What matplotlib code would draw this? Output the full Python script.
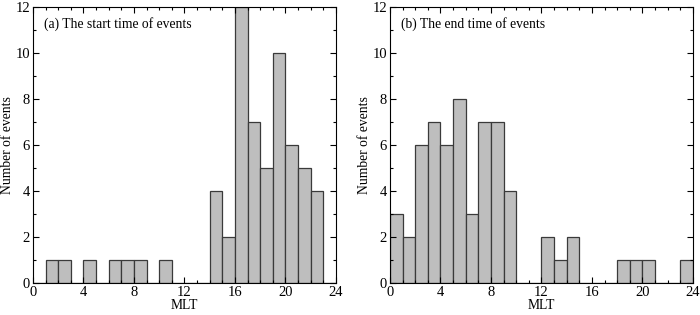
import matplotlib
matplotlib.use("Agg")
import matplotlib.pyplot as plt
from matplotlib.ticker import MultipleLocator

plt.rcParams['font.family'] = ['Liberation Serif', 'DejaVu Serif']

bin_starts = list(range(24))
counts_start = [0, 1, 1, 0, 1, 0, 1, 1, 1, 0, 1, 0, 0, 0, 4, 2, 12, 7, 5, 10, 6, 5, 4, 0]
counts_end = [3, 2, 6, 7, 6, 8, 3, 7, 7, 4, 0, 0, 2, 1, 2, 0, 0, 0, 1, 1, 1, 0, 0, 1]
titles = ["(a) The start time of events", "(b) The end time of events"]
xlabel = "MLT"
ylabel = "Number of events"

fig = plt.figure(figsize=(7, 3.15), dpi=100)
ax1 = fig.add_axes([0.047, 0.1016, 0.433, 0.876])
ax2 = fig.add_axes([0.557, 0.1016, 0.433, 0.876])

fs = 9.8
for ax, counts, title in [(ax1, counts_start, titles[0]), (ax2, counts_end, titles[1])]:
    ax.bar(bin_starts, counts, width=1, align='edge', color='#bebebe',
           edgecolor='#3a3a3a', linewidth=0.9)
    ax.set_xlim(0, 24)
    ax.set_ylim(0, 12)
    ax.xaxis.set_major_locator(MultipleLocator(4))
    ax.xaxis.set_minor_locator(MultipleLocator(1))
    ax.yaxis.set_major_locator(MultipleLocator(2))
    ax.yaxis.set_minor_locator(MultipleLocator(1))
    ax.tick_params(which='both', direction='in', top=True, right=True, labelsize=10.5, pad=2)
    ax.tick_params(which='major', length=4, width=0.8)
    ax.tick_params(which='minor', length=2, width=0.8)
    for s in ax.spines.values():
        s.set_linewidth(0.8)
    ax.set_xlabel(xlabel, fontsize=fs, labelpad=0)
    ax.set_ylabel(ylabel, fontsize=fs, labelpad=1)
    ax.text(0.035, 0.94, title, transform=ax.transAxes, fontsize=fs, va='center', ha='left')

fig.savefig("out.png", dpi=100)
